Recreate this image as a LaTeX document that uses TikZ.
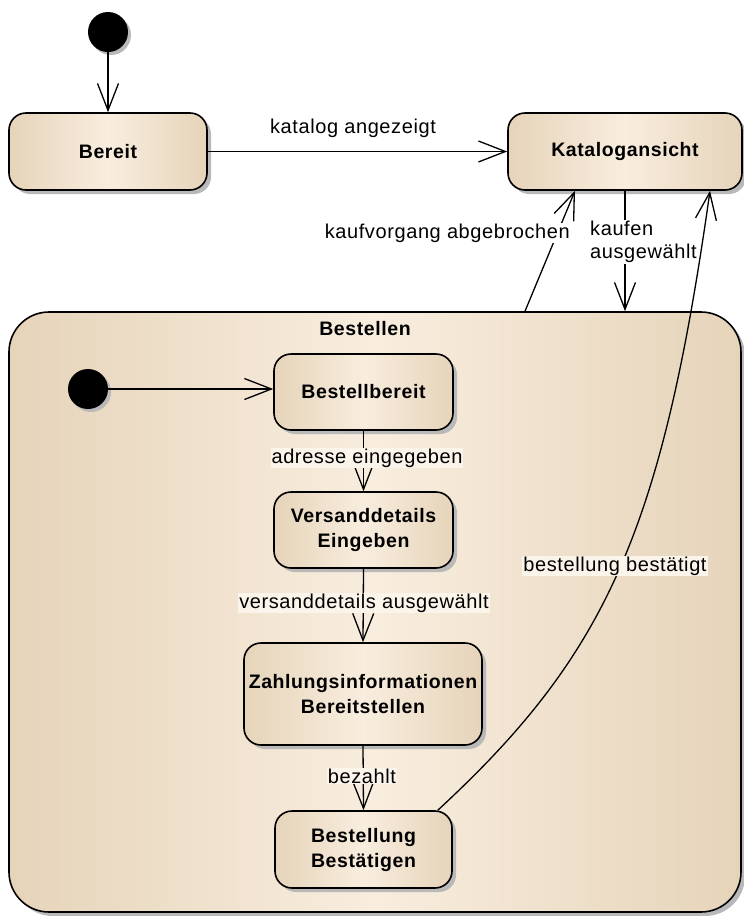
\documentclass[tikz,border=0pt]{standalone}
\usepackage{fontspec}
\setmainfont{Liberation Sans}[LetterSpace=3]
\usetikzlibrary{arrows.meta,shadows,calc}
\definecolor{edgec}{RGB}{230,212,186}
\definecolor{midc}{RGB}{248,237,222}
\definecolor{lblbg}{RGB}{251,244,234}
\definecolor{shad}{RGB}{185,185,185}
\begin{document}
\begin{tikzpicture}[x=1pt,y=-1pt,
  statebox/.style={draw=black, line width=1.6pt, rounded corners=17pt,
    left color=edgec, right color=edgec, middle color=midc,
    drop shadow={shadow xshift=4pt,shadow yshift=-4pt,fill=shad,opacity=1},
    font=\bfseries\fontsize{19.5}{25}\selectfont, align=center, inner sep=0pt},
  initnode/.style={circle, fill=black, minimum size=40pt, inner sep=0pt,
    drop shadow={shadow xshift=3pt,shadow yshift=-3pt,fill=shad,opacity=1}},
  tr/.style={line width=1.3pt, -{Straight Barb[length=27pt,width=21pt]}},
  lbl/.style={font=\fontsize{20}{23}\selectfont, inner sep=1pt},
  lblbox/.style={lbl, fill=lblbg},
  lblw/.style={lbl, fill=white}
]
\useasboundingbox (0,0) rectangle (744,916);

% composite state
\node[statebox, rounded corners=40pt, minimum width=732pt, minimum height=600pt] (best) at (375,612) {};
\node[font=\bfseries\fontsize{19.5}{25}\selectfont] (btitle) at (365,329) {Bestellen};

% states
\node[initnode] (i1) at (108,32) {};
\node[statebox, minimum width=198pt, minimum height=77pt] (bereit) at (108,151.5) {Bereit};
\node[statebox, minimum width=234pt, minimum height=77pt] (kat) at (625,151.5) {Katalogansicht};
\node[initnode] (i2) at (88,389) {};
\node[statebox, minimum width=179pt, minimum height=76pt] (bb) at (363.5,392) {Bestellbereit};
\node[statebox, minimum width=179pt, minimum height=76pt] (vd) at (363.5,530) {Versanddetails\\Eingeben};
\node[statebox, minimum width=238pt, minimum height=102pt] (zi) at (363,694) {Zahlungsinformationen\\Bereitstellen};
\node[statebox, minimum width=177pt, minimum height=77pt] (bbst) at (363.5,849.5) {Bestellung\\Bestätigen};

% transitions
\draw[tr] (i1) -- (bereit.north);
\draw[tr] (bereit.east) -- (kat.west);
\draw[tr] ($(best.north)+(150,0)$) -- ($(kat.south)+(-50,0)$);
\draw[tr] (kat.south) -- (kat.south |- best.north);
\draw[tr] (i2) -- (i2 -| bb.west);
\draw[tr] (bb.south) -- (vd.north);
\draw[tr] (vd.south) -- (zi.north);
\draw[tr] (zi.south) -- (bbst.north);
\draw[tr] ($(bbst.north east)+(-15,0)$) .. controls (607,654) and (662,530) .. ($(kat.south)+(85,0)$);

% labels
\node[lbl] (l1) at (353,128) {katalog angezeigt};
\node[lblw, anchor=east] (l2) at (571,233) {kaufvorgang abgebrochen};
\node[lblw, anchor=west, align=left] (l3) at (589,242) {kaufen\\ausgewählt};
\node[lblbox] (l4) at (367,458) {adresse eingegeben};
\node[lblbox] (l5) at (364,603) {versanddetails ausgewählt};
\node[lblbox] (l6) at (362,776) {bezahlt};
\node[lblbox] (l7) at (615,566) {bestellung bestätigt};
\end{tikzpicture}
\end{document}
